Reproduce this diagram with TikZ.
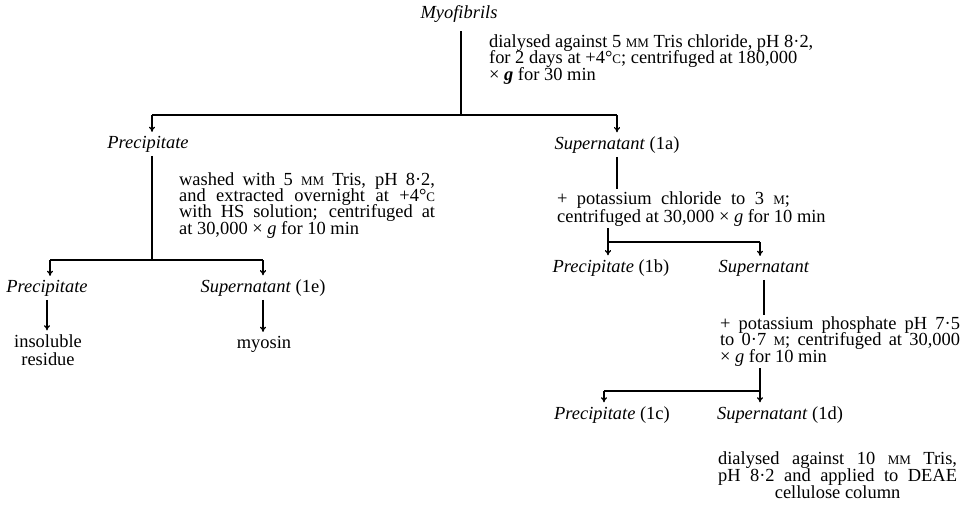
\documentclass[tikz,border=0pt]{standalone}
\usepackage{fontspec}
\setmainfont{Liberation Serif}
\usetikzlibrary{arrows.meta}
\setlength{\lineskiplimit}{-5pt}
\newcommand{\smcap}[1]{{\fontsize{7.4}{7.4}\selectfont #1}}
\newcommand{\jline}[2]{\makebox[#1][s]{#2}}
\tikzset{
  txt/.style={inner sep=2pt, font=\fontsize{10.5}{9.2}\selectfont},
  block/.style={txt, anchor=base west, align=left, inner sep=1pt},
  wide/.style={font=\fontsize{10.5}{10.2}\selectfont},
  loose/.style={font=\fontsize{10.5}{9.6}\selectfont},
  flow/.style={line width=0.7pt},
  down/.style={flow, -{To[length=3pt,width=3.5pt]}}
}

\begin{document}
\begin{tikzpicture}[x=0.02cm, y=-0.02cm]
\useasboundingbox (0,0) rectangle (966,507);

\node[txt, anchor=base] (myo) at (459,18) {\textit{Myofibrils}};
\node[block] (dial1) at (487,80) {dialysed against 5 \smcap{MM} Tris chloride, pH 8·2,\\for 2 days at +4°\smcap{C}; centrifuged at 180,000\\× \textbf{\textit{g}} for 30 min};
\node[txt, anchor=base] (prec) at (148,148) {\textit{Precipitate}};
\node[txt, anchor=base] (supa) at (617,149) {\textit{Supernatant} (1a)};

\node[block] (wash) at (177,234) {\jline{5.12cm}{washed with 5 \smcap{MM} Tris, pH 8·2,}\\\jline{5.12cm}{and extracted overnight at +4°\smcap{C}}\\\jline{5.12cm}{with HS solution; centrifuged at}\\at 30,000 × \textit{g} for 10 min};
\node[txt, anchor=base] (precl) at (47,292) {\textit{Precipitate}};
\node[txt, anchor=base] (supe) at (263,292) {\textit{Supernatant} (1e)};
\node[txt, wide, anchor=base, align=center] (insol) at (48,365) {insoluble\\residue};
\node[txt, anchor=base] (myosin) at (264,348) {myosin};

\node[block, wide] (kcl) at (555,222) {\jline{4.66cm}{+ potassium chloride to 3 \smcap{M};}\\centrifuged at 30,000 × \textit{g} for 10 min};
\node[txt, anchor=base] (precb) at (611,272) {\textit{Precipitate} (1b)};
\node[txt, anchor=base] (supb) at (764,272) {\textit{Supernatant}};
\node[block] (phos) at (718,362) {\jline{4.8cm}{+ potassium phosphate pH 7·5}\\\jline{4.8cm}{to 0·7 \smcap{M}; centrifuged at 30,000}\\× \textit{g} for 10 min};
\node[txt, anchor=base] (precc) at (612,419) {\textit{Precipitate} (1c)};
\node[txt, anchor=base] (supd) at (780,419) {\textit{Supernatant} (1d)};
\node[block, loose, align=center] (dial2) at (716,498) {\jline{4.78cm}{dialysed against 10 \smcap{MM} Tris,}\\\jline{4.78cm}{pH 8·2 and applied to DEAE}\\cellulose column};

\coordinate (j1) at (461,115);
\coordinate (j1l) at (152,115);
\coordinate (j1r) at (617,115);
\coordinate (j2) at (152,260);
\coordinate (j2l) at (50,260);
\coordinate (j2r) at (263,260);
\coordinate (j3) at (608,242);
\coordinate (j3r) at (760,242);
\coordinate (j4) at (760,391);
\coordinate (j4l) at (604,391);

\draw[flow] ([yshift=-3pt]myo.south -| j1) -- (j1);
\draw[flow] (j1l) -- (j1r);
\draw[down] (j1l) -- (j1l |- prec.north);
\draw[down] (j1r) -- (supa.north);

\draw[flow] (prec.south -| j2) -- (j2);
\draw[flow] (j2l) -- (j2r);
\draw[down] (j2l) -- (j2l |- precl.north);
\draw[down] (j2r) -- (supe.north);
\draw[down] (precl.south) -- (precl.south |- insol.north);
\draw[down] (supe.south) -- (supe.south |- myosin.north);

\draw[flow] (supa.south) -- (supa.south |- kcl.north);
\draw[flow] (kcl.south -| j3) -- (j3);
\draw[flow] (j3) -- (j3r);
\draw[down] (j3) -- (j3 |- precb.north);
\draw[down] (j3r) -- (j3r |- supb.north);
\draw[flow] (supb.south) -- (supb.south |- phos.north);
\draw[flow] (phos.south -| j4) -- (j4);
\draw[flow] (j4l) -- (j4);
\draw[down] (j4l) -- (j4l |- precc.north);
\draw[down] (j4) -- (j4 |- supd.north);
\end{tikzpicture}
\end{document}
